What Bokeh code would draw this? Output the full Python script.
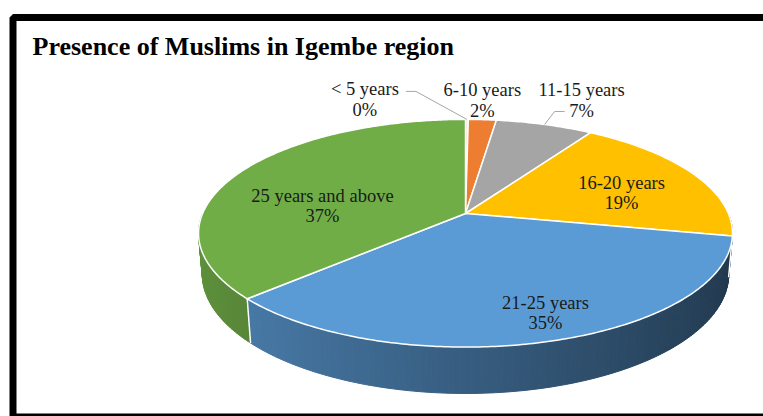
import numpy as np
from bokeh.plotting import figure
from bokeh.models import Range1d, ColumnDataSource
from bokeh.core.properties import value
from bokeh.embed import file_html
from bokeh.resources import INLINE

# ---------------- data ----------------
title_text = "Presence of Muslims in Igembe region"
categories = ["< 5 years", "6-10 years", "11-15 years", "16-20 years", "21-25 years", "25 years and above"]
shares = [0.2, 2, 7, 19, 35, 37]
colors = ["#F2DCCB", "#ED7D31", "#A5A5A5", "#FFC000", "#5B9BD5", "#70AD47"]

# ---------------- layout / projection ----------------
W, H_FIG = 763, 416
CX, VY = 465.0, 213.0      # screen position of the pie centre
F = 1375.0                 # focal scale
D = 5.23                   # camera distance (in pie radii)
ELEV = np.arcsin(0.42)     # camera elevation
SA, CA = np.sin(ELEV), np.cos(ELEV)
DEPTH = 0.171              # pie thickness (in radii)
FONT = "Liberation Serif"
TXT = "#1a1a1a"
LABEL_SIZE = "18.5px"

# inside label placement: (radius fraction, angle shift in degrees)
inside = {3: (0.675, -0.3), 4: (0.78, -4.1), 5: (0.574, -9.6)}
# outside labels: (dx, dy of label from rim anchor, leader elbow dx, leader end dx, leader dy, leader on line 2)
outside = {0: (-102, -30, 51, 41, 2, False), 1: (0, -30, None, None, None, False),
           2: (37, -35, -27, -17, 1, True)}


def proj(theta_deg, r=1.0, y=0.0):
    t = np.radians(theta_deg)
    X = r * np.sin(t)
    Z = r * np.cos(t)
    dist = D + Z * CA - y * SA
    sx = CX + F * X / dist
    sy = VY - F * (Z * SA + y * CA) / dist
    return sx, sy


def shade(hexcol, f):
    h = hexcol.lstrip("#")
    rgb = [int(h[i:i + 2], 16) for i in (0, 2, 4)]
    return "#%02x%02x%02x" % tuple(max(0, min(255, int(round(c * f)))) for c in rgb)


total = float(sum(shares))
bounds = np.concatenate([[0.0], np.cumsum(shares)]) / total * 360.0

p = figure(width=W, height=H_FIG, output_backend="svg", toolbar_location=None,
           x_range=Range1d(0, W), y_range=Range1d(H_FIG, 0),
           min_border=0, outline_line_color=None)
p.axis.visible = False
p.grid.visible = False
p.background_fill_color = "white"
p.border_fill_color = "white"

# frame (open on the right, as in the reference)
p.line([W + 20, 12.5, 12.5, W + 20], [17, 17, 416.5, 416.5], line_color="black", line_width=7)

# ---------------- side walls (front half) ----------------
sx_list, sy_list, sc_list = [], [], []
for i in range(len(shares)):
    a, b = max(bounds[i], 90.0), min(bounds[i + 1], 270.0)
    if a >= b:
        continue
    n = max(2, int(np.ceil((b - a) / 1.0)))
    edges = np.linspace(a, b, n + 1)
    for t1, t2 in zip(edges[:-1], edges[1:]):
        x1, y1 = proj(t1)
        x2, y2 = proj(t2)
        x3, y3 = proj(t2, y=-DEPTH)
        x4, y4 = proj(t1, y=-DEPTH)
        sx_list.append([x1, x2, x3, x4])
        sy_list.append([y1, y2, y3, y4])
        mid = np.radians((t1 + t2) / 2)
        sc_list.append(shade(colors[i], 0.6 - 0.24 * np.sin(mid)))
p.patches(sx_list, sy_list, fill_color=sc_list, line_color=sc_list, line_width=1)

# white separators on the wall
for t in bounds:
    if 90 < t < 270:
        x1, y1 = proj(t)
        x2, y2 = proj(t, y=-DEPTH)
        p.line([x1, x2], [y1, y2], line_color="white", line_width=1.5)

# ---------------- top faces ----------------
tx, ty = [], []
for i in range(len(shares)):
    ang = np.linspace(bounds[i], bounds[i + 1], max(3, int((bounds[i + 1] - bounds[i]) / 0.7) + 2))
    ex, ey = proj(ang)
    tx.append(np.concatenate([[CX], ex]).tolist())
    ty.append(np.concatenate([[VY], ey]).tolist())
p.patches(tx, ty, fill_color=colors, line_color="white", line_width=1.5, line_join="round")

# ---------------- labels ----------------
lab_x, lab_y, lab_t = [], [], []
for i, cat in enumerate(categories):
    pct = "%d%%" % round(shares[i] / total * 100)
    mid = (bounds[i] + bounds[i + 1]) / 2
    if i in inside:
        r, sh = inside[i]
        lx, ly = proj(mid + sh, r=r)
        lab_x += [lx, lx]
        lab_y += [ly - 3, ly + 17]
        lab_t += [cat, pct]
    else:
        dx, dy, el, en, ldy, second = outside[i]
        ax, ay = proj(mid)
        lx, ly = ax + dx, ay + dy
        lab_x += [lx, lx]
        lab_y += [ly, ly + 21]
        lab_t += [cat, pct]
        if el is not None:
            base = ly + 21 if second else ly
            p.line([ax, lx + el, lx + en], [ay, base + ldy, base + ldy],
                   line_color="#a6a6a6", line_width=1)

src = ColumnDataSource(dict(x=lab_x, y=lab_y, t=lab_t))
p.text(x="x", y="y", text="t", source=src, text_font=value(FONT), text_font_size=LABEL_SIZE,
       text_color=TXT, text_align="center", text_baseline="alphabetic")

p.text(x=[32], y=[46], text=[title_text], text_font=value(FONT), text_font_size="26px",
       text_font_style="bold", text_color="black", text_align="left", text_baseline="alphabetic")

open("out.html", "w").write(file_html(p, INLINE))
